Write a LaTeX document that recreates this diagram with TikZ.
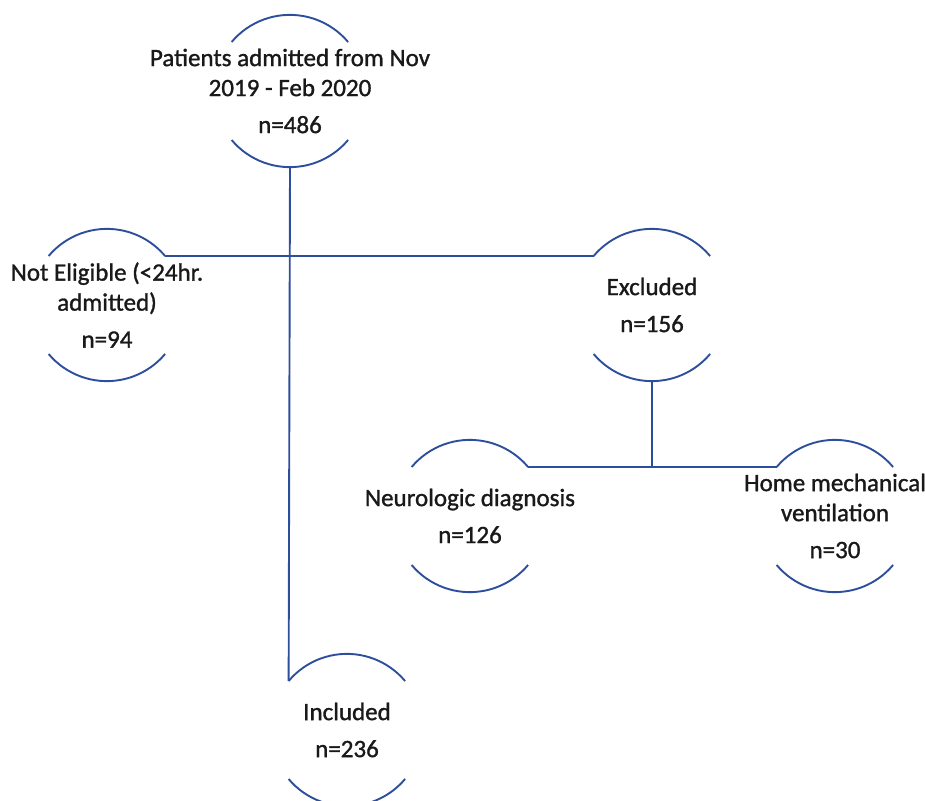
\documentclass[tikz,border=0pt]{standalone}
\usepackage{fontspec}
\setmainfont{Carlito}[FakeBold=1.2,AutoFakeBold=1.2]
\definecolor{lineblue}{RGB}{44,78,155}
\begin{document}
\begin{tikzpicture}[x=1pt,y=-1pt,
  ring/.style={circle,minimum size=152pt,inner sep=0pt,draw=none},
  lbl/.style={align=center,font=\fontsize{25}{30}\selectfont\bfseries,text=black!90,inner sep=0pt},
  arcs/.style={draw=lineblue,line width=1.9pt},
  conn/.style={draw=lineblue,line width=1.9pt}]
\useasboundingbox (0,0) rectangle (925,800);
% shapes
\node[ring] (top) at (290,91) {};
\node[ring] (ne)  at (107,305) {};
\node[ring] (ex)  at (652,305) {};
\node[ring] (neu) at (470,516) {};
\node[ring] (home) at (835,516) {};
\node[ring] (inc) at (347,730) {};
\foreach \n in {top,ne,ex,neu,home,inc}{
  \draw[arcs] (\n.140) arc[start angle=140,end angle=40,radius=76pt];
  \draw[arcs] (\n.220) arc[start angle=220,end angle=320,radius=76pt];
}
% labels
\node[lbl] (ttop) at (top) {Patients admitted from Nov\\2019 - Feb 2020\\[7pt]n=486};
\node[lbl] (tne) at (ne) {Not Eligible (<24hr.\\admitted)\\[7pt]n=94};
\node[lbl] (tex) at (ex) {Excluded\\[7pt]n=156};
\node[lbl] (tneu) at (neu) {Neurologic diagnosis\\[7pt]n=126};
\node[lbl] (thome) at (home) {Home mechanical\\ventilation\\[7pt]n=30};
\node[lbl] (tinc) at (inc) {Included\\[7pt]n=236};
% connectors
\draw[conn] (top.south) -- (inc.140);
\draw[conn] (ne.40) -- (ex.140);
\coordinate (j) at (ex.south |- neu.40);
\draw[conn] (ex.south) -- (j);
\draw[conn] (neu.40) -- (home.140);
\end{tikzpicture}
\end{document}
